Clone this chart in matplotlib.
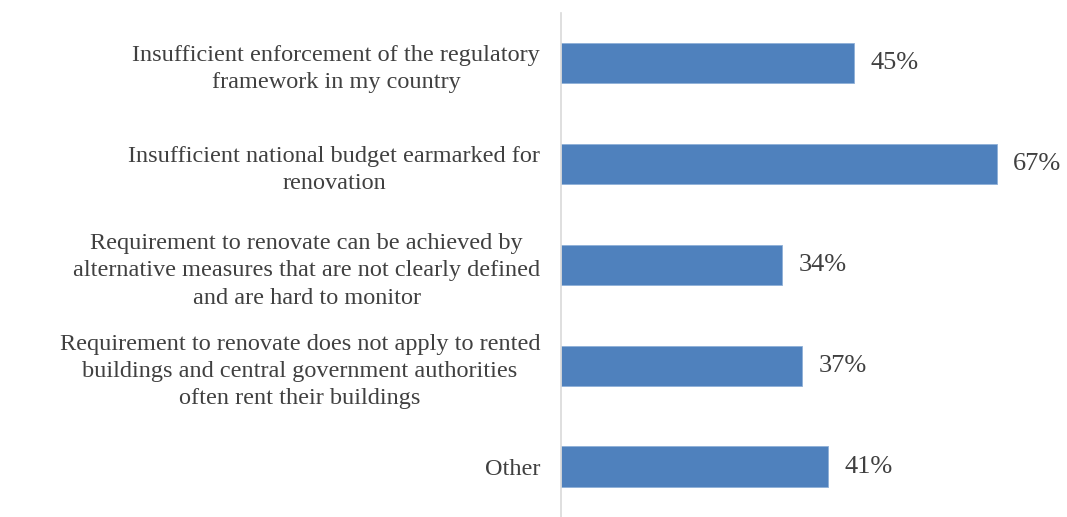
import matplotlib.pyplot as plt

categories = [
    "Insufficient enforcement of the regulatory\nframework in my country",
    "Insufficient national budget earmarked for\nrenovation",
    "Requirement to renovate can be achieved by\nalternative measures that are not clearly defined\nand are hard to monitor",
    "Requirement to renovate does not apply to rented\nbuildings and central government authorities\noften rent their buildings",
    "Other",
]
shares = [0.45, 0.67, 0.34, 0.37, 0.41]

plt.rcParams['font.family'] = ['Liberation Serif', 'DejaVu Serif']

fig = plt.figure(figsize=(10.67, 5.17), dpi=100)
ax = fig.add_axes([0.5258, 0.0, 0.46, 0.975])

pos = list(range(len(categories)))[::-1]
ax.barh(pos, shares, height=0.4, color='#4f81bd', edgecolor='#8fb0d8', linewidth=0.6)

for y, v in zip(pos, shares):
    ax.annotate(f"{v:.0%}", (v, y), xytext=(12, 0), textcoords='offset points',
                ha='left', va='center', fontsize=19, color='#404040')

ax.set_yticks(pos)
ax.set_yticklabels(categories, fontsize=17.5, color='#404040', multialignment='center',
                   linespacing=1.4)
ax.tick_params(axis='y', length=0, pad=15)
ax.set_xticks([])
ax.set_xlim(0, 0.755)
ax.set_ylim(-0.5, 4.5)
for s in ['top', 'right', 'bottom']:
    ax.spines[s].set_visible(False)
ax.spines['left'].set_color('#d9d9d9')
ax.spines['left'].set_linewidth(1.2)

fig.savefig('out.png', dpi=100)
